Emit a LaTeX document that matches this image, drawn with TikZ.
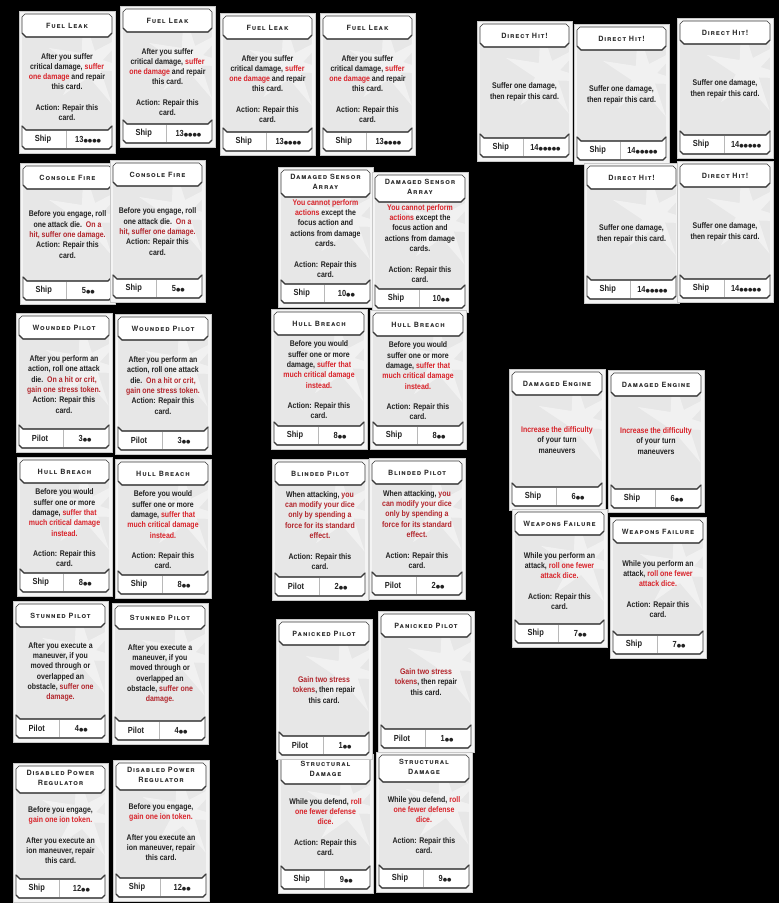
\documentclass[tikz,border=0pt]{standalone}
\usepackage{fontspec}
\setmainfont{Liberation Sans}
\newfontfamily\bodyfont[FakeStretch=0.85]{Liberation Sans}
\newfontfamily\ttlfont[LetterSpace=12]{TeX Gyre Heros}
\newfontfamily\dotfont{DejaVu Sans}
\definecolor{cardbg}{HTML}{F4F4F4}
\definecolor{cardedge}{HTML}{C8C8C8}
\definecolor{bodyg}{HTML}{E7E7E7}
\definecolor{framec}{HTML}{3A3A3A}
\definecolor{divc}{HTML}{B8B8B8}
\definecolor{ttlc}{HTML}{2C2C2C}
\definecolor{txtc}{HTML}{222222}
\definecolor{redA}{HTML}{D8232A}
\definecolor{redB}{HTML}{B2262C}
\colorlet{cardred}{redA}
\newcounter{cardno}
\newcommand\rd[1]{\textcolor{cardred}{#1}}
\newcommand\pp[1]{{\dotfont\fontsize{5}{5}\selectfont #1}}
\tikzset{
  ttl/.style={align=center, inner sep=0pt, text=ttlc, font=\ttlfont\bfseries\scshape\fontsize{7.2}{10}\selectfont},
  bodytxt/.style={align=center, inner sep=0pt, text=txtc, font=\bodyfont\bfseries\fontsize{8.2}{10.3}\selectfont},
  foot/.style={inner sep=0pt, text=txtc, font=\bodyfont\bfseries\fontsize{8.8}{9}\selectfont},
  framethin/.style={draw=framec, line width=0.6pt},
  framethick/.style={draw=framec, line width=1.3pt}
}
% ---------- card types ----------
\newcommand\FuelLeak{\def\cT{Fuel Leak}\def\cHB{26}\def\cY{76}\colorlet{cardred}{redA}%
 \def\cB{After you suffer\\critical damage, \rd{suffer}\\\rd{one damage} and repair\\this card.\\[10.3pt]Action: Repair this\\card.}%
 \def\cL{Ship}\def\cR{13\pp{●●●●}}}
\newcommand\DirectHit{\def\cT{Direct Hit!}\def\cHB{26}\def\cY{71}\colorlet{cardred}{redA}%
 \def\cB{Suffer one damage,\\then repair this card.}%
 \def\cL{Ship}\def\cR{14\pp{●●●●●}}}
\newcommand\ConsoleFire{\def\cT{Console Fire}\def\cHB{26}\def\cY{71.5}\colorlet{cardred}{redB}%
 \def\cB{Before you engage, roll\\one attack die.\ \ \rd{On a}\\\rd{hit, suffer one damage.}\\Action: Repair this\\card.}%
 \def\cL{Ship}\def\cR{5\pp{●●}}}
\newcommand\SensorArray{\def\cT{Damaged Sensor\\Array}\def\cHB{30}\def\cY{71.5}\colorlet{cardred}{redA}%
 \def\cB{\rd{You cannot perform}\\\rd{actions} except the\\focus action and\\actions from damage\\cards.\\[10.3pt]Action: Repair this\\card.}%
 \def\cL{Ship}\def\cR{10\pp{●●}}}
\newcommand\WoundedPilot{\def\cT{Wounded Pilot}\def\cHB{26}\def\cY{71.5}\colorlet{cardred}{redB}%
 \def\cB{After you perform an\\action, roll one attack\\die.\ \ \rd{On a hit or crit,}\\\rd{gain one stress token.}\\Action: Repair this\\card.}%
 \def\cL{Pilot}\def\cR{3\pp{●●}}}
\newcommand\HullBreach{\def\cT{Hull Breach}\def\cHB{26}\def\cY{71}\colorlet{cardred}{redA}%
 \def\cB{Before you would\\suffer one or more\\damage, \rd{suffer that}\\\rd{much critical damage}\\\rd{instead.}\\[10.3pt]Action: Repair this\\card.}%
 \def\cL{Ship}\def\cR{8\pp{●●}}}
\newcommand\BlindedPilot{\def\cT{Blinded Pilot}\def\cHB{26}\def\cY{71.5}\colorlet{cardred}{redB}%
 \def\cB{When attacking, \rd{you}\\\rd{can modify your dice}\\\rd{only by spending a}\\\rd{force for its standard}\\\rd{effect.}\\[10.3pt]Action: Repair this\\card.}%
 \def\cL{Pilot}\def\cR{2\pp{●●}}}
\newcommand\DamagedEngine{\def\cT{Damaged Engine}\def\cHB{26}\def\cY{71}\colorlet{cardred}{redA}%
 \def\cB{\rd{Increase the difficulty}\\of your turn\\maneuvers}%
 \def\cL{Ship}\def\cR{6\pp{●●}}}
\newcommand\WeaponsFailure{\def\cT{Weapons Failure}\def\cHB{26}\def\cY{72}\colorlet{cardred}{redA}%
 \def\cB{While you perform an\\attack, \rd{roll one fewer}\\\rd{attack dice.}\\[10.3pt]Action: Repair this\\card.}%
 \def\cL{Ship}\def\cR{7\pp{●●}}}
\newcommand\StunnedPilot{\def\cT{Stunned Pilot}\def\cHB{26}\def\cY{71}\colorlet{cardred}{redB}%
 \def\cB{After you execute a\\maneuver, if you\\moved through or\\overlapped an\\obstacle, \rd{suffer one}\\\rd{damage.}}%
 \def\cL{Pilot}\def\cR{4\pp{●●}}}
\newcommand\PanickedPilot{\def\cT{Panicked Pilot}\def\cHB{26}\def\cY{71}\colorlet{cardred}{redB}%
 \def\cB{\rd{Gain two stress}\\\rd{tokens}, then repair\\this card.}%
 \def\cL{Pilot}\def\cR{1\pp{●●}}}
\newcommand\PowerRegulator{\def\cT{Disabled Power\\Regulator}\def\cHB{30}\def\cY{72}\colorlet{cardred}{redA}%
 \def\cB{Before you engage,\\\rd{gain one ion token.}\\[10.3pt]After you execute an\\ion maneuver, repair\\this card.}%
 \def\cL{Ship}\def\cR{12\pp{●●}}}
\newcommand\StructuralDamage{\def\cT{Structural\\Damage}\def\cHB{30}\def\cY{73}\colorlet{cardred}{redA}%
 \def\cB{While you defend, \rd{roll}\\\rd{one fewer defense}\\\rd{dice.}\\[10.3pt]Action: Repair this\\card.}%
 \def\cL{Ship}\def\cR{9\pp{●●}}}
% ---------- card drawing ----------
\newcommand\card[5]{%
 \stepcounter{cardno}\edef\cid{\arabic{cardno}}%
 #5%
 \begin{scope}[shift={(#1,#2)}]
  \fill[cardbg] (0,0) rectangle (#3,#4);
  \draw[cardedge, line width=0.5pt] (0.25,0.25) rectangle (#3-0.25,#4-0.25);
  \fill[bodyg] (3,\cHB-4) rectangle (#3-3,#4-23);
  \begin{scope}
   \clip (3,\cHB) rectangle (#3-3,#4-23);
   \fill[white, opacity=0.45, shift={(0.74*#3,52)}]
     (10:50) -- (35:13) -- (62:46) -- (95:14) -- (130:42) -- (160:13) -- (200:44)
     -- (230:13) -- (262:48) -- (292:13) -- (322:46) -- (347:13) -- cycle;
  \end{scope}
  \filldraw[fill=white, framethin] (3,\cHB-4) -- (3,6) -- (6,3) -- (#3-6,3) -- (#3-3,6)
     -- (#3-3,\cHB-4) -- (#3-7,\cHB) -- (7,\cHB) -- cycle;
  \draw[framethick] (3,\cHB-4) -- (7,\cHB) -- (#3-7,\cHB) -- (#3-3,\cHB-4);
  \filldraw[fill=white, framethin] (3,#4-27) -- (7,#4-23) -- (#3-7,#4-23) -- (#3-3,#4-27)
     -- (#3-3,#4-7) -- (#3-6,#4-4) -- (6,#4-4) -- (3,#4-7) -- cycle;
  \draw[framethick] (3,#4-27) -- (7,#4-23) -- (#3-7,#4-23) -- (#3-3,#4-27);
  \draw[draw=framec, line width=1.1pt] (3,#4-7) -- (6,#4-4) -- (#3-6,#4-4) -- (#3-3,#4-7);
  \draw[divc, line width=0.7pt] (0.49*#3,#4-22) -- (0.49*#3,#4-5);
  \node[ttl] (t\cid) at (#3/2,14.5) {\cT};
  \node[bodytxt] (b\cid) at (#3/2,\cY) {\cB};
  \node[foot] (l\cid) at (0.25*#3,#4-13.5) {\cL};
  \node[foot] (r\cid) at (0.72*#3,#4-13.5) {\cR};
 \end{scope}}
\begin{document}
\begin{tikzpicture}[x=1pt, y=-1pt]
\useasboundingbox (0,0) rectangle (779,903);
\fill[black] (0,0) rectangle (779,903);
% row 1
\card{19}{11}{96}{142}{\FuelLeak}
\card{120}{6}{95}{141}{\FuelLeak}
\card{220}{13}{95}{142}{\FuelLeak}
\card{320}{13}{95}{142}{\FuelLeak}
\card{477}{21}{95}{140}{\DirectHit}
\card{574}{24}{95}{140}{\DirectHit}
\card{677}{18}{96}{140}{\DirectHit}
\card{584}{163}{95}{140}{\DirectHit}
\card{677}{161}{96}{141}{\DirectHit}
% row 2
\card{20}{163}{95}{141}{\ConsoleFire}
\card{110}{160}{95}{142}{\ConsoleFire}
\card{278}{167}{95}{140}{\SensorArray}
\card{372}{172}{96}{140}{\SensorArray}
% row 3
\card{16}{313}{96}{139}{\WoundedPilot}
\card{115}{314}{96}{140}{\WoundedPilot}
\card{271}{309}{96}{140}{\HullBreach}
\card{370}{310}{96}{139}{\HullBreach}
\card{509}{369}{96}{141}{\DamagedEngine}
\card{608}{370}{96}{142}{\DamagedEngine}
% row 4
\card{17}{457}{95}{139}{\HullBreach}
\card{115}{459}{96}{139}{\HullBreach}
\card{272}{459}{96}{141}{\BlindedPilot}
\card{369}{458}{96}{141}{\BlindedPilot}
\card{512}{509}{95}{138}{\WeaponsFailure}
\card{610}{517}{96}{141}{\WeaponsFailure}
% row 5
\card{13}{601}{95}{141}{\StunnedPilot}
\card{112}{603}{96}{141}{\StunnedPilot}
\card{278}{754}{95}{139}{\StructuralDamage}
\card{376}{752}{96}{140}{\StructuralDamage}
\card{276}{619}{96}{140}{\PanickedPilot}
\card{378}{611}{96}{141}{\PanickedPilot}
% row 6
\card{13}{763}{95}{139}{\PowerRegulator}
\card{113}{760}{96}{141}{\PowerRegulator}
\end{tikzpicture}
\end{document}
